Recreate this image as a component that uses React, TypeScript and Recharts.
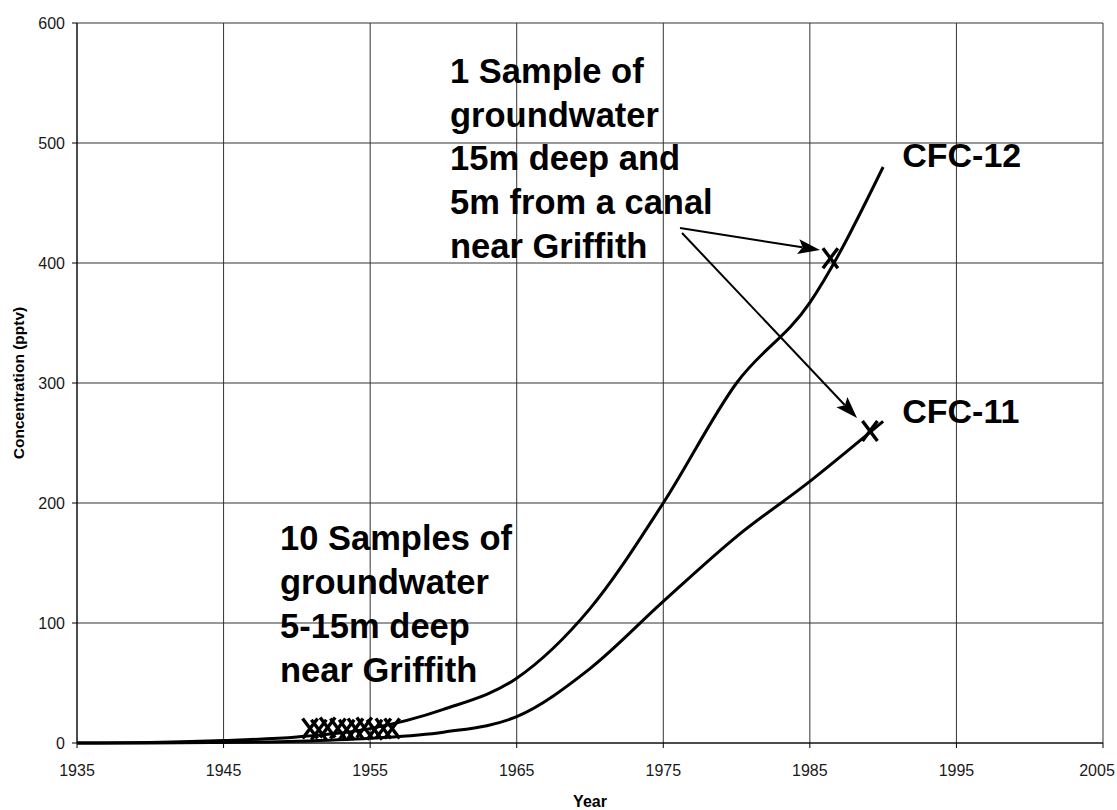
import React from "react";
import {
  ComposedChart,
  Line,
  Scatter,
  XAxis,
  YAxis,
  CartesianGrid,
  ReferenceLine,
  ReferenceDot,
  Label,
} from "recharts";

// ---- data ----
const years = [1935, 1940, 1945, 1950, 1955, 1960, 1965, 1970, 1975, 1980, 1985, 1990];
const cfc12 = [0, 0.5, 2, 5, 12, 28, 54, 112, 200, 300, 367, 480];
const cfc11 = [0, 0, 0.5, 1.5, 4, 9, 22, 62, 118, 172, 218, 268];

const shallowSampleYears = [1950.9, 1951.5, 1952.1, 1952.8, 1953.4, 1954.0, 1954.6, 1955.3, 1955.9, 1956.5];
const shallowSampleValues = [12, 11, 13, 12, 11, 12, 13, 11, 12, 12];

const canalSampleYears = [1986.4, 1989.1];
const canalSampleValues = [404, 260];

const xTicks = [1935, 1945, 1955, 1965, 1975, 1985, 1995, 2005];
const yTicks = [0, 100, 200, 300, 400, 500, 600];

const noteTopLines = ["1 Sample of", "groundwater", "15m deep and", "5m from a canal", "near Griffith"];
const noteBottomLines = ["10 Samples of", "groundwater", "5-15m deep", "near Griffith"];
const seriesNames = ["CFC-12", "CFC-11"];

// annotation anchors (data coordinates)
const noteTopAnchor = { x: 1960.45, y: 550 };
const noteBottomAnchor = { x: 1948.85, y: 161 };
const cfc12LabelAnchor = { x: 1991.3, y: 480 };
const cfc11LabelAnchor = { x: 1991.3, y: 267 };
const arrowSegments = [
  [{ x: 1976.14, y: 429.2 }, { x: 1985.69, y: 410.8 }],
  [{ x: 1976.28, y: 425 }, { x: 1988.22, y: 270.8 }],
];

const chartData = years.map((year, i) => ({ year, cfc12: cfc12[i], cfc11: cfc11[i] }));
const shallowSamples = shallowSampleYears.map((year, i) => ({ year, sample: shallowSampleValues[i] }));
const canalSamples = canalSampleYears.map((year, i) => ({ year, sample: canalSampleValues[i] }));

const FONT = "'Liberation Sans', Arial, sans-serif";
const CHART_W = 1117;

const XMark = (props: any) => {
  const { cx, cy } = props;
  if (cx == null || cy == null) return null;
  const w = 7.5;
  const h = 10;
  return (
    <g>
      <line x1={cx - w} y1={cy - h} x2={cx + w} y2={cy + h} stroke="#000" strokeWidth={3.4} />
      <line x1={cx + w} y1={cy - h} x2={cx - w} y2={cy + h} stroke="#000" strokeWidth={3.4} />
    </g>
  );
};

const Arrow = (props: any) => {
  const { x1, y1, x2, y2 } = props;
  if ([x1, y1, x2, y2].some((v) => v == null || isNaN(v))) return null;
  const dx = x2 - x1;
  const dy = y2 - y1;
  const len = Math.sqrt(dx * dx + dy * dy);
  const ux = dx / len;
  const uy = dy / len;
  const hl = 22;
  const hw = 7.5;
  const bx = x2 - ux * hl;
  const by = y2 - uy * hl;
  const px = -uy;
  const py = ux;
  const notch = x2 - ux * hl * 0.8;
  const notchY = y2 - uy * hl * 0.8;
  return (
    <g>
      <line x1={x1} y1={y1} x2={bx + ux * 4} y2={by + uy * 4} stroke="#000" strokeWidth={2} />
      <polygon
        points={`${x2},${y2} ${bx + px * hw},${by + py * hw} ${notch},${notchY} ${bx - px * hw},${by - py * hw}`}
        fill="#000"
      />
    </g>
  );
};

const multiLine = (lines: string[], size: number, spacing: number) => (props: any) => {
  const { cx, cy } = props;
  if (cx == null || cy == null) return null;
  return (
    <text x={cx} y={cy} fontFamily={FONT} fontWeight="bold" fontSize={size} fill="#000">
      {lines.map((l, i) => (
        <tspan key={i} x={cx} y={cy + i * spacing}>
          {l}
        </tspan>
      ))}
    </text>
  );
};

const XTick = (props: any) => {
  const { x, y, payload } = props;
  const label = String(payload.value);
  const halfW = 18;
  let cx = x;
  if (cx + halfW > CHART_W - 2) cx = CHART_W - 2 - halfW;
  return (
    <text x={cx} y={y + 26} textAnchor="middle" fontFamily={FONT} fontSize={16} fill="#1a1a1a">
      {label}
    </text>
  );
};

const YTick = (props: any) => {
  const { x, y, payload } = props;
  return (
    <text x={x} y={y + 6} textAnchor="end" fontFamily={FONT} fontSize={16} fill="#1a1a1a">
      {String(payload.value)}
    </text>
  );
};

const YLabel = (props: any) => {
  const vb = props.viewBox || {};
  const x = (vb.x ?? 0) + 18;
  const y = (vb.y ?? 23) + (vb.height ?? 720) / 2;
  return (
    <text
      x={x}
      y={y}
      transform={`rotate(-90, ${x}, ${y})`}
      textAnchor="middle"
      dominantBaseline="central"
      fontFamily={FONT}
      fontWeight="bold"
      fontSize={15.5}
      fill="#000"
    >
      Concentration (pptv)
    </text>
  );
};

const XLabel = (props: any) => {
  const vb = props.viewBox || {};
  const x = (vb.x ?? 77) + (vb.width ?? 1026) / 2;
  return (
    <text x={x} y={807} textAnchor="middle" fontFamily={FONT} fontWeight="bold" fontSize={16} fill="#000">
      Year
    </text>
  );
};

export default function App() {
  return (
    <div style={{ position: "absolute", left: 0, top: 0, background: "#fff" }}>
      <ComposedChart
        width={CHART_W}
        height={810}
        data={chartData}
        margin={{ top: 23, right: 14, left: 0, bottom: 0 }}
      >
        <CartesianGrid stroke="#333" strokeWidth={1} />
        <XAxis
          dataKey="year"
          type="number"
          domain={[1935, 2005]}
          ticks={xTicks}
          height={67}
          axisLine={{ stroke: "#000", strokeWidth: 1 }}
          tickLine={{ stroke: "#000" }}
          tickSize={5}
          tickMargin={2}
          tick={<XTick />}
          interval={0}
        >
          <Label content={XLabel} />
        </XAxis>
        <YAxis
          type="number"
          domain={[0, 600]}
          ticks={yTicks}
          width={77}
          axisLine={{ stroke: "#000", strokeWidth: 1 }}
          tickLine={{ stroke: "#000" }}
          tickSize={5}
          tickMargin={7}
          tick={<YTick />}
          interval={0}
        >
          <Label content={YLabel} />
        </YAxis>
        <Line
          dataKey="cfc12"
          type="monotone"
          stroke="#000"
          strokeWidth={3}
          dot={false}
          isAnimationActive={false}
        />
        <Line
          dataKey="cfc11"
          type="monotone"
          stroke="#000"
          strokeWidth={3}
          dot={false}
          isAnimationActive={false}
        />
        <Scatter data={shallowSamples} dataKey="sample" shape={XMark} isAnimationActive={false} />
        <Scatter data={canalSamples} dataKey="sample" shape={XMark} isAnimationActive={false} />
        {arrowSegments.map((seg, i) => (
          <ReferenceLine key={i} segment={seg} shape={Arrow} ifOverflow="visible" />
        ))}
        <ReferenceDot
          x={noteTopAnchor.x}
          y={noteTopAnchor.y}
          r={1}
          ifOverflow="visible"
          shape={multiLine(noteTopLines, 34.5, 43.7)}
        />
        <ReferenceDot
          x={noteBottomAnchor.x}
          y={noteBottomAnchor.y}
          r={1}
          ifOverflow="visible"
          shape={multiLine(noteBottomLines, 34.5, 44)}
        />
        <ReferenceDot
          x={cfc12LabelAnchor.x}
          y={cfc12LabelAnchor.y}
          r={1}
          ifOverflow="visible"
          shape={multiLine([seriesNames[0]], 34, 0)}
        />
        <ReferenceDot
          x={cfc11LabelAnchor.x}
          y={cfc11LabelAnchor.y}
          r={1}
          ifOverflow="visible"
          shape={multiLine([seriesNames[1]], 34, 0)}
        />
      </ComposedChart>
    </div>
  );
}
